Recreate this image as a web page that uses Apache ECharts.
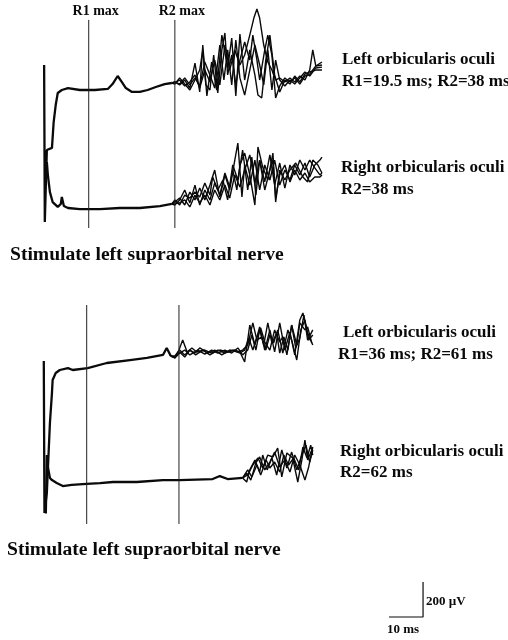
<!DOCTYPE html>
<html><head><meta charset="utf-8">
<script src="https://cdn.jsdelivr.net/npm/echarts/dist/echarts.min.js"></script>
<style>html,body{margin:0;padding:0;background:#fff}#c{width:508px;height:640px}</style>
</head><body><div id="c"></div>
<script>
// ===== DATA (time in ms after stimulus, amplitude in µV relative to each trace's baseline) =====
// Panel 1: stimulate left supraorbital nerve
const p1LeftEarly = [[-0.2,143],[0.0,-754],[0.6,-343],[2.1,-331],[2.6,-183],[3.2,-86],[3.8,-17],[5.0,0],[6.8,11],[10.3,0],[14.7,0],[18.5,6],[19.9,34],[21.4,80],[22.6,46],[23.8,11],[25.6,-11],[27.9,-11],[30.2,0],[32.6,17],[35.2,34],[37.3,40]];
const p1LeftSweepA = [[38.2,40],[39.6,57],[41.1,23],[42.6,46],[44.1,86],[45.5,11],[47.0,114],[48.5,46],[49.9,171],[51.4,29],[52.9,257],[54.3,114],[55.8,229],[57.3,143],[58.7,200],[60.2,314],[61.4,411],[62.3,463],[63.1,411],[64.3,257],[65.5,160],[66.7,114],[67.8,57],[69.0,69],[70.5,46],[72.0,69],[73.4,46],[74.9,80],[76.4,57],[77.8,114],[78.7,229],[79.6,137],[81.4,143]];
const p1LeftSweepB = [[38.2,46],[39.6,29],[41.1,57],[42.6,11],[44.1,154],[45.5,-11],[46.4,257],[47.6,-34],[49.0,160],[50.5,0],[52.0,314],[53.7,126],[54.9,297],[56.1,-34],[57.3,320],[58.7,57],[60.2,229],[61.7,86],[62.6,-29],[63.7,-46],[64.9,171],[66.1,314],[67.5,86],[69.0,-11],[70.5,57],[72.0,34],[73.4,80],[74.9,46],[76.4,91],[77.8,103],[79.6,114],[81.4,114]];
const p1LeftSweepC = [[38.2,34],[39.6,69],[41.1,34],[42.6,0],[44.1,57],[45.5,114],[46.4,229],[47.3,29],[48.5,0],[49.6,200],[50.8,-17],[52.0,229],[52.9,326],[53.7,86],[54.9,200],[56.1,29],[57.3,171],[58.7,274],[60.2,171],[61.1,314],[62.3,171],[63.1,57],[64.6,229],[65.5,314],[66.7,200],[67.8,-46],[69.0,23],[70.5,69],[72.0,46],[73.4,69],[74.9,34],[76.4,80],[77.8,91],[79.6,137],[81.4,160]];
const p1LeftSweepD = [[38.2,46],[39.6,34],[41.1,69],[42.6,29],[44.1,69],[45.5,23],[47.0,160],[48.5,86],[49.9,11],[51.4,257],[52.6,57],[53.7,229],[54.9,29],[56.1,286],[57.3,69],[58.7,-29],[60.2,114],[61.7,257],[63.1,143],[64.3,29],[65.5,229],[66.7,0],[67.8,171],[69.0,57],[70.5,23],[72.0,57],[73.4,34],[74.9,69],[76.4,103],[77.8,80],[79.6,126],[81.4,131]];

const p1RightEarly = [[0.6,263],[0.9,188],[1.5,91],[2.3,34],[3.8,6],[4.7,23],[5.0,63],[5.6,11],[6.8,0],[10.3,-6],[16.2,-6],[22.0,0],[27.9,0],[33.8,11],[37.3,23]];
const p1RightSweepA = [[38.2,34],[39.6,57],[41.1,17],[42.6,91],[44.1,46],[45.5,114],[47.0,46],[48.5,131],[49.9,217],[51.4,63],[52.9,189],[54.3,103],[55.8,274],[56.7,371],[57.9,63],[58.7,246],[60.2,131],[61.7,274],[63.1,103],[64.6,246],[66.1,160],[67.5,274],[69.0,131],[70.5,217],[72.0,160],[73.4,246],[74.9,189],[76.4,257],[77.8,177],[79.3,246],[80.8,274],[81.4,291]];
const p1RightSweepB = [[38.2,17],[39.6,46],[41.1,103],[42.6,29],[44.1,131],[45.5,17],[47.0,103],[48.5,46],[49.9,143],[51.4,74],[52.9,200],[54.3,120],[55.2,217],[56.4,103],[57.3,246],[58.7,314],[60.2,189],[61.7,17],[62.6,349],[64.0,234],[65.5,160],[67.0,314],[67.8,34],[69.0,217],[70.5,160],[72.0,217],[73.7,257],[75.8,177],[77.2,149],[78.7,274],[80.2,246],[81.4,200]];
const p1RightSweepC = [[38.2,46],[39.6,17],[41.1,74],[42.6,57],[44.1,91],[45.5,63],[47.0,143],[48.5,74],[49.3,177],[50.8,103],[52.3,160],[53.7,46],[55.2,246],[56.7,160],[58.1,331],[59.6,103],[60.8,291],[62.0,74],[63.1,274],[64.6,149],[66.1,303],[67.5,131],[69.0,257],[70.5,114],[72.0,246],[73.4,189],[74.9,274],[76.4,217],[77.8,274],[79.3,229],[80.8,189],[81.4,200]];
const p1RightSweepD = [[38.2,29],[39.6,29],[41.1,46],[42.6,6],[44.1,74],[45.5,29],[47.0,74],[48.5,17],[49.9,103],[51.4,46],[52.9,131],[54.3,57],[55.8,189],[57.3,120],[58.7,217],[60.2,303],[61.7,143],[63.1,274],[64.6,103],[66.1,217],[67.0,274],[67.8,57],[69.0,189],[70.5,246],[72.0,149],[73.4,217],[74.9,160],[76.4,200],[77.8,149],[79.3,177],[80.8,177],[81.4,189]];

// Panel 2
const p2LeftEarly = [[-0.3,51],[-0.1,-817],[0.6,-700],[1.5,-303],[2.1,-131],[2.3,-57],[3.2,-17],[4.4,0],[6.8,11],[8.2,0],[12.6,11],[18.2,40],[25.0,57],[30.0,69],[34.7,86],[35.8,126],[37.0,80]];
const p2LeftSweepA = [[38.2,69],[39.4,114],[40.5,171],[41.8,103],[43.2,126],[44.6,103],[47.0,114],[49.0,97],[51.4,114],[53.7,103],[55.8,114],[57.3,103],[58.7,46],[60.2,257],[61.7,143],[63.1,246],[64.6,114],[66.1,229],[67.5,103],[69.0,269],[70.5,114],[72.0,217],[73.4,86],[74.9,286],[75.8,326],[77.2,211],[78.7,143]];
const p2LeftSweepB = [[38.2,80],[39.6,114],[41.1,86],[42.6,114],[44.1,97],[45.5,126],[47.9,97],[49.9,114],[52.0,86],[54.3,114],[56.7,103],[58.1,114],[59.6,143],[61.1,269],[62.3,171],[63.7,189],[64.9,114],[66.1,200],[67.2,154],[68.4,229],[69.9,97],[71.4,229],[72.5,171],[74.0,57],[75.2,229],[76.4,286],[77.5,171],[78.7,200]];
const p2LeftSweepC = [[38.2,69],[39.6,97],[41.1,114],[42.6,86],[44.9,114],[47.0,91],[49.0,114],[50.8,97],[52.9,114],[54.9,97],[56.7,126],[58.1,86],[59.6,114],[60.8,200],[62.0,114],[63.1,229],[64.3,143],[65.5,269],[66.7,154],[68.1,211],[69.0,97],[70.2,189],[71.4,114],[72.5,257],[74.0,143],[74.9,269],[76.4,229],[77.2,246],[78.4,154]];
const p2LeftSweepD = [[38.2,74],[39.6,103],[41.1,74],[42.6,114],[44.3,86],[46.4,114],[48.5,86],[50.8,114],[52.9,97],[55.2,114],[57.3,97],[58.7,114],[59.9,183],[61.1,114],[62.3,189],[63.4,240],[64.6,160],[66.1,114],[67.5,229],[69.0,160],[69.9,189],[71.1,86],[72.5,257],[73.7,126],[74.9,183],[76.1,314],[77.2,171],[78.7,229]];

const p2RightEarly = [[0.3,-180],[0.6,154],[0.9,86],[1.5,23],[2.1,11],[3.5,-6],[5.3,-23],[7.9,-17],[12.3,-11],[16.2,-6],[20.0,0],[27.0,0],[34.7,11],[39.6,11],[49.3,17],[51.4,34],[53.7,17],[58.1,23]];
const p2RightSweepA = [[58.1,23],[59.3,0],[60.2,69],[61.7,126],[63.1,57],[64.0,154],[65.3,69],[66.7,137],[68.1,40],[69.6,183],[71.1,80],[72.5,171],[74.0,69],[75.5,154],[76.7,211],[77.8,114],[78.7,183]];
const p2RightSweepB = [[58.1,23],[59.6,40],[61.1,97],[62.6,137],[64.0,80],[65.5,154],[67.0,143],[68.4,194],[69.6,29],[71.1,166],[72.8,137],[74.3,0],[75.5,126],[76.4,240],[77.2,126],[78.4,183]];
const p2RightSweepC = [[58.1,17],[59.3,51],[60.5,11],[62.0,109],[63.1,143],[64.6,69],[66.1,114],[67.5,171],[69.0,86],[70.5,126],[72.0,57],[73.4,154],[74.9,97],[76.4,11],[77.5,86],[78.7,200]];
const p2RightSweepD = [[58.1,23],[59.6,69],[60.8,29],[62.3,97],[63.4,40],[65.0,126],[66.1,80],[67.5,114],[69.0,57],[70.2,154],[71.6,97],[73.1,137],[74.6,69],[75.8,200],[77.0,137],[78.1,211],[78.7,154]];

// Reflex markers (ms)
const p1MarkerTimes = [12.9, 38.2];
const p1MarkerLabels = ['R1 max', 'R2 max'];
const p2MarkerTimes = [12.3, 39.4];

// Scale bar: 10 ms, 200 µV
const scaleBarMs = [0, 10, 10];
const scaleBarUv = [0, 0, 200];
const scaleBarLabels = ['200 µV', '10 ms'];

// Text labels
const p1LeftLabel = ['Left orbicularis oculi', 'R1=19.5 ms; R2=38 ms'];
const p1RightLabel = ['Right orbicularis oculi', 'R2=38 ms'];
const p2LeftLabel = ['Left orbicularis oculi', 'R1=36 ms; R2=61 ms'];
const p2RightLabel = ['Right orbicularis oculi', 'R2=62 ms'];
const captions = ['Stimulate left supraorbital nerve', 'Stimulate left supraorbital nerve'];

// ===== LAYOUT =====
const T_MIN = -2, T_MAX = 82;
const GRID_LEFT = 38, GRID_WIDTH = 286;
const PX_PER_MS = GRID_WIDTH / (T_MAX - T_MIN);
const UV_PER_PX = 200 / 35;
const SERIF = '"Liberation Serif","Times New Roman",serif';
const INK = '#0a0a0a';

function traceGrid(baselinePx, lo, hi) {
  return { left: GRID_LEFT, width: GRID_WIDTH, top: baselinePx - hi / UV_PER_PX, height: (hi - lo) / UV_PER_PX, lo, hi };
}
const traceGrids = [
  traceGrid(90, -800, 500),   // P1 left
  traceGrid(208, -300, 600),  // P1 right
  traceGrid(370, -900, 400),  // P2 left
  traceGrid(482, -300, 400)   // P2 right
];
const grids = [], xAxes = [], yAxes = [], series = [];
traceGrids.forEach((g, i) => {
  grids.push({ left: g.left, width: g.width, top: g.top, height: g.height });
  xAxes.push({ gridIndex: i, type: 'value', min: T_MIN, max: T_MAX, show: false });
  yAxes.push({ gridIndex: i, type: 'value', min: g.lo, max: g.hi, show: false });
});
// marker grids
grids.push({ left: GRID_LEFT, width: GRID_WIDTH, top: 20, height: 208 });
xAxes.push({ gridIndex: 4, type: 'value', min: T_MIN, max: T_MAX, show: false });
yAxes.push({ gridIndex: 4, type: 'value', min: 0, max: 1, show: false });
grids.push({ left: GRID_LEFT, width: GRID_WIDTH, top: 305, height: 219 });
xAxes.push({ gridIndex: 5, type: 'value', min: T_MIN, max: T_MAX, show: false });
yAxes.push({ gridIndex: 5, type: 'value', min: 0, max: 1, show: false });
// scale bar grid
grids.push({ left: 389, width: 10 * PX_PER_MS, top: 582, height: 200 / UV_PER_PX });
xAxes.push({ gridIndex: 6, type: 'value', min: 0, max: 10, show: false });
yAxes.push({ gridIndex: 6, type: 'value', min: 0, max: 200, show: false });

function addTrace(idx, early, sweeps) {
  const last = early[early.length - 1];
  series.push({ type: 'line', xAxisIndex: idx, yAxisIndex: idx, data: early, showSymbol: false, clip: false,
    lineStyle: { color: INK, width: 2.3 }, silent: true });
  sweeps.forEach(sw => {
    series.push({ type: 'line', xAxisIndex: idx, yAxisIndex: idx, data: [last].concat(sw), showSymbol: false, clip: false,
      lineStyle: { color: INK, width: 1.4 }, silent: true });
  });
}
addTrace(0, p1LeftEarly, [p1LeftSweepA, p1LeftSweepB, p1LeftSweepC, p1LeftSweepD]);
addTrace(1, p1RightEarly, [p1RightSweepA, p1RightSweepB, p1RightSweepC, p1RightSweepD]);
addTrace(2, p2LeftEarly, [p2LeftSweepA, p2LeftSweepB, p2LeftSweepC, p2LeftSweepD]);
addTrace(3, p2RightEarly, [p2RightSweepA, p2RightSweepB, p2RightSweepC, p2RightSweepD]);

function addMarkers(idx, times) {
  times.forEach(t => {
    series.push({ type: 'line', xAxisIndex: idx, yAxisIndex: idx, data: [[t, 0], [t, 1]], showSymbol: false,
      lineStyle: { color: '#222', width: 1 }, silent: true });
  });
}
addMarkers(4, p1MarkerTimes);
addMarkers(5, p2MarkerTimes);
series.push({ type: 'scatter', xAxisIndex: 4, yAxisIndex: 4, symbol: 'circle', symbolSize: 0.5, itemStyle: { color: INK, opacity: 1 },
  data: p1MarkerTimes.map((t, i) => ({ value: [t, 1], name: p1MarkerLabels[i] })), silent: true,
  label: { show: true, position: 'top', distance: 1, offset: [7, 0], formatter: p => p.name,
    fontFamily: SERIF, fontWeight: 'bold', fontSize: 14, color: INK, opacity: 1 } });

// scale bar
series.push({ type: 'line', xAxisIndex: 6, yAxisIndex: 6, data: scaleBarMs.map((t, i) => [t, scaleBarUv[i]]),
  showSymbol: false, clip: false, lineStyle: { color: INK, width: 1.2 }, silent: true });

function txt(text, x, y, size) {
  return { type: 'text', x, y, silent: true,
    style: { text, font: 'bold ' + size + 'px ' + SERIF, fill: INK, textVerticalAlign: 'middle', verticalAlign: 'middle' } };
}
const graphics = [
  txt(p1LeftLabel[0], 342, 60, 17), txt(p1LeftLabel[1], 342, 82, 17),
  txt(p1RightLabel[0], 341, 168, 17), txt(p1RightLabel[1], 341, 190, 17),
  txt(captions[0], 10, 255, 19.6),
  txt(p2LeftLabel[0], 343, 333, 17), txt(p2LeftLabel[1], 338, 355, 17),
  txt(p2RightLabel[0], 340, 452, 17), txt(p2RightLabel[1], 340, 473, 17),
  txt(captions[1], 7, 550, 19.6),
  txt(scaleBarLabels[0], 426, 602, 13), txt(scaleBarLabels[1], 387, 630, 13)
];

const chart = echarts.init(document.getElementById('c'), null, { renderer: 'canvas' });
chart.setOption({
  backgroundColor: '#fff', animation: false,
  grid: grids, xAxis: xAxes, yAxis: yAxes, series, graphic: graphics
});
</script></body></html>
